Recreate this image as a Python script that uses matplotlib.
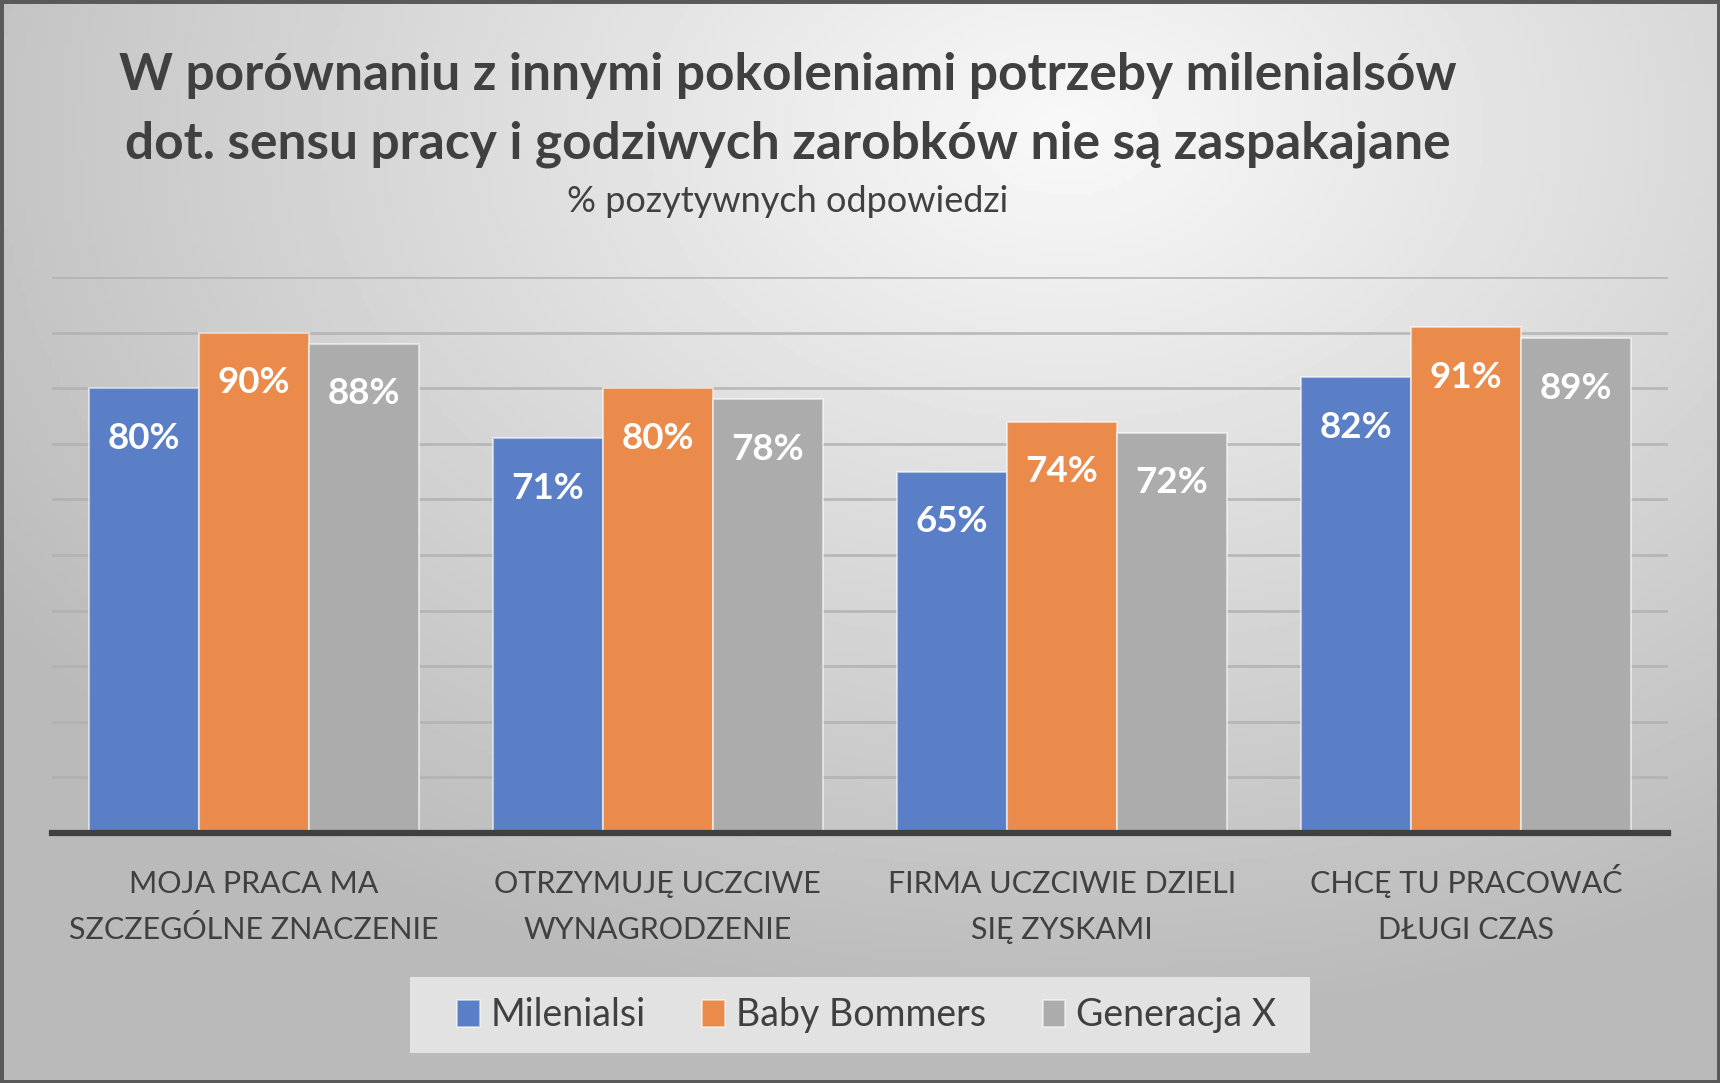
import matplotlib.pyplot as plt
import numpy as np
from matplotlib.patches import Rectangle, Patch

plt.rcParams['font.family'] = ['Lato', 'DejaVu Sans']

categories = ['MOJA PRACA MA\nSZCZEGÓLNE ZNACZENIE', 'OTRZYMUJĘ UCZCIWE\nWYNAGRODZENIE',
              'FIRMA UCZCIWIE DZIELI\nSIĘ ZYSKAMI', 'CHCĘ TU PRACOWAĆ\nDŁUGI CZAS']
series = ['Milenialsi', 'Baby Bommers', 'Generacja X']
milenialsi = [80, 71, 65, 82]
baby_bommers = [90, 80, 74, 91]
generacja_x = [88, 78, 72, 89]
values = [milenialsi, baby_bommers, generacja_x]
colors = ['#5A7FC7', '#EA8B4C', '#ACACAC']
text_col = '#404040'

fig = plt.figure(figsize=(17.2, 10.83), dpi=100)

# tło z gradientem
bg = fig.add_axes([0, 0, 1, 1], zorder=-10)
yy, xx = np.mgrid[0:1:300j, 0:1:400j]
d = np.sqrt(((xx - 0.62) / 1.0) ** 2 + ((yy - 0.12) / 1.1) ** 2)
shade = np.clip(0.975 - 0.33 * d, 0.73, 1)
bg.imshow(shade, cmap='gray', vmin=0, vmax=1, aspect='auto', extent=[0, 1, 1, 0])
bg.axis('off')

ax = fig.add_axes([0.030, 0.2308, 0.9398, 0.5134])
ax.set_facecolor('none')
w = 0.272
x = np.arange(len(categories))
for j, (name, vals, c) in enumerate(zip(series, values, colors)):
    bars = ax.bar(x + (j - 1) * w, vals, w, color=c, label=name,
                  edgecolor=(1, 1, 1, 0.55), linewidth=1.5, zorder=3)
    for b, v in zip(bars, vals):
        ax.annotate(f'{v}%', (b.get_x() + b.get_width() / 2, v), xytext=(0, -36),
                    textcoords='offset points', ha='center', va='center',
                    color='white', fontsize=26.5, fontweight='bold', zorder=4)

ax.set_xlim(-0.5, 3.5)
ax.set_ylim(0, 100)
ax.set_yticks(range(10, 101, 10))
ax.yaxis.grid(True, color='#b0b0b0', linewidth=2, alpha=0.8, zorder=0)
ax.tick_params(axis='y', left=False, labelleft=False)
ax.set_xticks([])
for s in ['top', 'right', 'left']:
    ax.spines[s].set_visible(False)
ax.spines['bottom'].set_color(text_col)
ax.spines['bottom'].set_linewidth(4.5)
ax.spines['bottom'].set_zorder(5)

# etykiety kategorii - każda linia osobno, na wspólnej linii bazowej
for i, cat in enumerate(categories):
    for k, line in enumerate(cat.split('\n')):
        ax.text(i, -0.108 - 0.0826 * k, line, transform=ax.get_xaxis_transform(),
                ha='center', va='baseline', fontsize=22, color=text_col)

fig.text(0.458, 0.930, 'W porównaniu z innymi pokoleniami potrzeby milenialsów',
         ha='center', va='center', fontsize=37, fontweight='bold', color=text_col)
fig.text(0.458, 0.867, 'dot. sensu pracy i godziwych zarobków nie są zaspakajane',
         ha='center', va='center', fontsize=37, fontweight='bold', color=text_col)
fig.text(0.458, 0.814, '% pozytywnych odpowiedzi', ha='center', va='center',
         fontsize=26, color=text_col)

# tło legendy
fig.patches.append(Rectangle((0.2384, 0.0277), 0.5233, 0.0702, transform=fig.transFigure,
                             facecolor='#e2e2e2', edgecolor='none', zorder=1))
handles = [Patch(facecolor=c, edgecolor=(1, 1, 1, 0.6), linewidth=1.2) for c in colors]
leg = fig.legend(handles, series, loc='center', bbox_to_anchor=(0.504, 0.0625), ncol=3,
                 fontsize=27, frameon=False, handlelength=0.6,
                 handleheight=0.75, handletextpad=0.3, columnspacing=1.5,
                 borderpad=0.5, labelcolor=text_col)

fig.patches.append(Rectangle((0, 0), 1, 1, transform=fig.transFigure, fill=False,
                             edgecolor='#595959', linewidth=5, zorder=20))

fig.savefig('out.png', dpi=100)
